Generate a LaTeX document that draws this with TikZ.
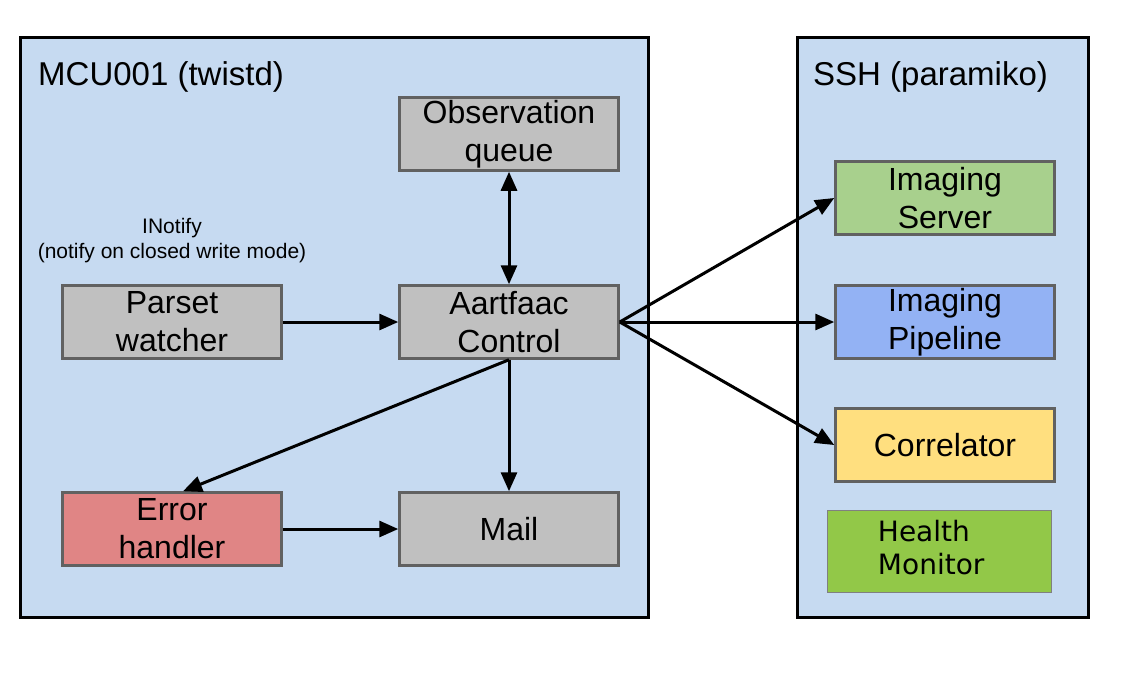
\documentclass[tikz,border=0pt]{standalone}
\usepackage{fontspec}
\setmainfont{Liberation Sans}
\newfontfamily\hmfont{DejaVu Sans}
\usetikzlibrary{arrows.meta,positioning}

\definecolor{panelblue}{HTML}{C6DAF1}
\definecolor{boxgray}{HTML}{C0C0C0}
\definecolor{errred}{HTML}{E08585}
\definecolor{srvgreen}{HTML}{A8D08D}
\definecolor{pipeblue}{HTML}{93B2F4}
\definecolor{corryellow}{HTML}{FFDF7F}
\definecolor{hmgreen}{HTML}{92C848}

\begin{document}
\begin{tikzpicture}[x=1pt,y=-1pt,
  >={Triangle[length=19pt,width=16pt]},
  panel/.style={draw=black, line width=3pt, fill=panelblue},
  box/.style={draw=black!62, line width=2.5pt, fill=boxgray, minimum width=219pt, minimum height=73pt,
    inner sep=0pt, align=center, font=\fontsize{32}{38}\selectfont},
  link/.style={line width=3pt, ->}]

\useasboundingbox (0,0) rectangle (1135,683);

% Panels
\draw[panel] (20,37) rectangle (648,617);
\draw[panel] (797,37) rectangle (1088,617);
\node[anchor=base west, inner sep=0pt, font=\fontsize{33}{38}\selectfont] (mcu) at (38,85) {MCU001 (twistd)};
\node[anchor=base west, inner sep=0pt, font=\fontsize{33}{38}\selectfont] (ssh) at (813,85) {SSH (paramiko)};

% MCU001 side
\node[box] (obs) at (509,134) {Observation\\queue};
\node[box] (ctrl) at (509,322) {Aartfaac\\Control};
\node[box] (parset) at (172,322) {Parset\\watcher};
\node[box, fill=errred] (err) at (172,529) {Error\\handler};
\node[box] (mail) at (509,529) {Mail};
\node[align=center, inner sep=0pt, font=\fontsize{21}{25}\selectfont] (inotify) at (172,241) {INotify\\(notify on closed write mode)};

% SSH side
\node[box, fill=srvgreen] (server) at (945,198) {Imaging\\Server};
\node[box, fill=pipeblue] (pipe) at (945,322) {Imaging\\Pipeline};
\node[box, fill=corryellow] (corr) at (945,445) {Correlator};
\node[draw=black!50, line width=1.5pt, fill=hmgreen, minimum width=224pt, minimum height=82pt] (health) at (939.5,551.5) {};
\node[anchor=west, align=left, inner sep=0pt, font=\hmfont\fontsize{28}{33}\selectfont] (hmtext) at ([xshift=51pt,yshift=4pt]health.west) {Health\\Monitor};

% Connections
\draw[link,<->] (obs) -- (ctrl);
\draw[link] (parset) -- (ctrl);
\draw[link] (ctrl) -- (mail);
\draw[link] (ctrl.south) -- ([xshift=11pt]err.north);
\draw[link] (err) -- (mail);
\draw[link] (ctrl.east) -- (server.west);
\draw[link] (ctrl.east) -- (pipe.west);
\draw[link] (ctrl.east) -- (corr.west);

\end{tikzpicture}
\end{document}
